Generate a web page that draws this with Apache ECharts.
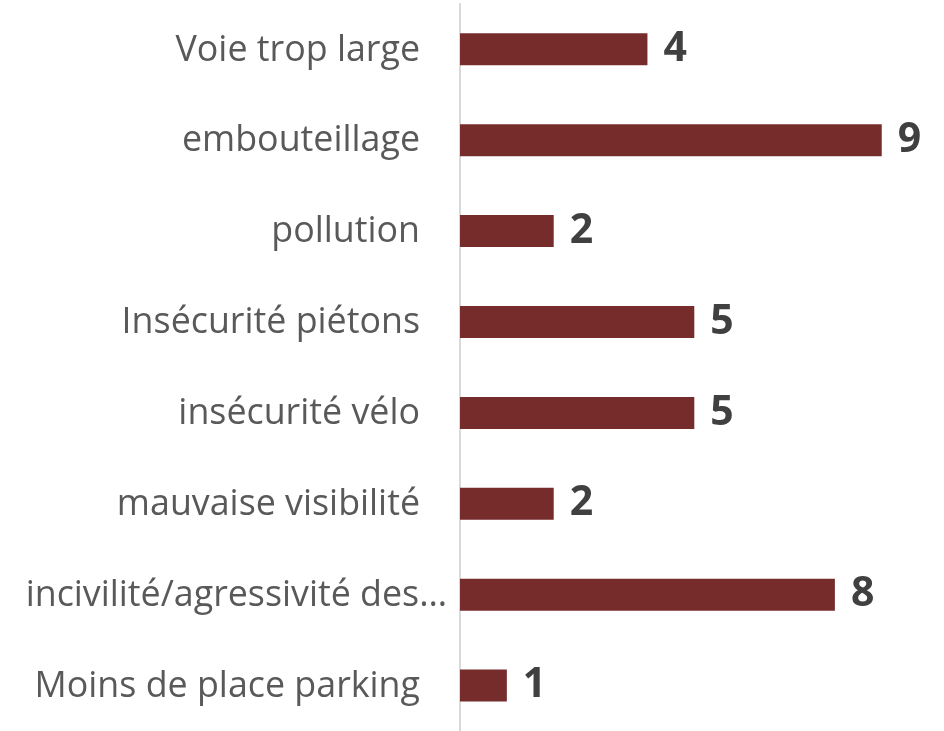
<!DOCTYPE html>
<html>
<head>
<meta charset="utf-8">
<script src="https://cdn.jsdelivr.net/npm/echarts@6/dist/echarts.min.js"></script>
<style>html,body{margin:0;padding:0;background:#fff;}#c{width:944px;height:731px;}</style>
</head>
<body>
<div id="c"></div>
<script>
const categories = ["Voie trop large", "embouteillage", "pollution", "Insécurité piétons", "insécurité vélo", "mauvaise visibilité", "incivilité/agressivité des…", "Moins de place parking"];
const values = [4, 9, 2, 5, 5, 2, 8, 1];

const chart = echarts.init(document.getElementById('c'));
chart.setOption({
  animation: false,
  grid: { left: 460, right: 15.4, top: 3.9, height: 730.3, containLabel: false },
  xAxis: { type: 'value', min: 0, max: 10, show: false },
  yAxis: {
    type: 'category', data: categories, inverse: true,
    axisLine: { show: true, lineStyle: { color: '#d9d9d9', width: 2 } },
    axisTick: { show: false },
    axisLabel: {
      margin: 13,
      formatter: function (v) {
        return v.indexOf('…') >= 0 ? '{t|' + v + '}' : '{n|' + v + '}';
      },
      rich: {
        n: { fontFamily: 'Open Sans', fontSize: 35.8, color: '#595959', padding: [2, 27, 0, 0] },
        t: { fontFamily: 'Open Sans', fontSize: 35.8, color: '#595959', padding: [2, 0, 0, 0] }
      }
    }
  },
  series: [{
    type: 'bar', data: values, barWidth: 32,
    itemStyle: { color: '#772c2c' },
    label: { show: true, position: 'right', distance: 16, fontFamily: 'Open Sans', fontWeight: 'bold', fontSize: 41, color: '#404040', padding: [3, 0, 0, 0] }
  }]
});
</script>
</body>
</html>
